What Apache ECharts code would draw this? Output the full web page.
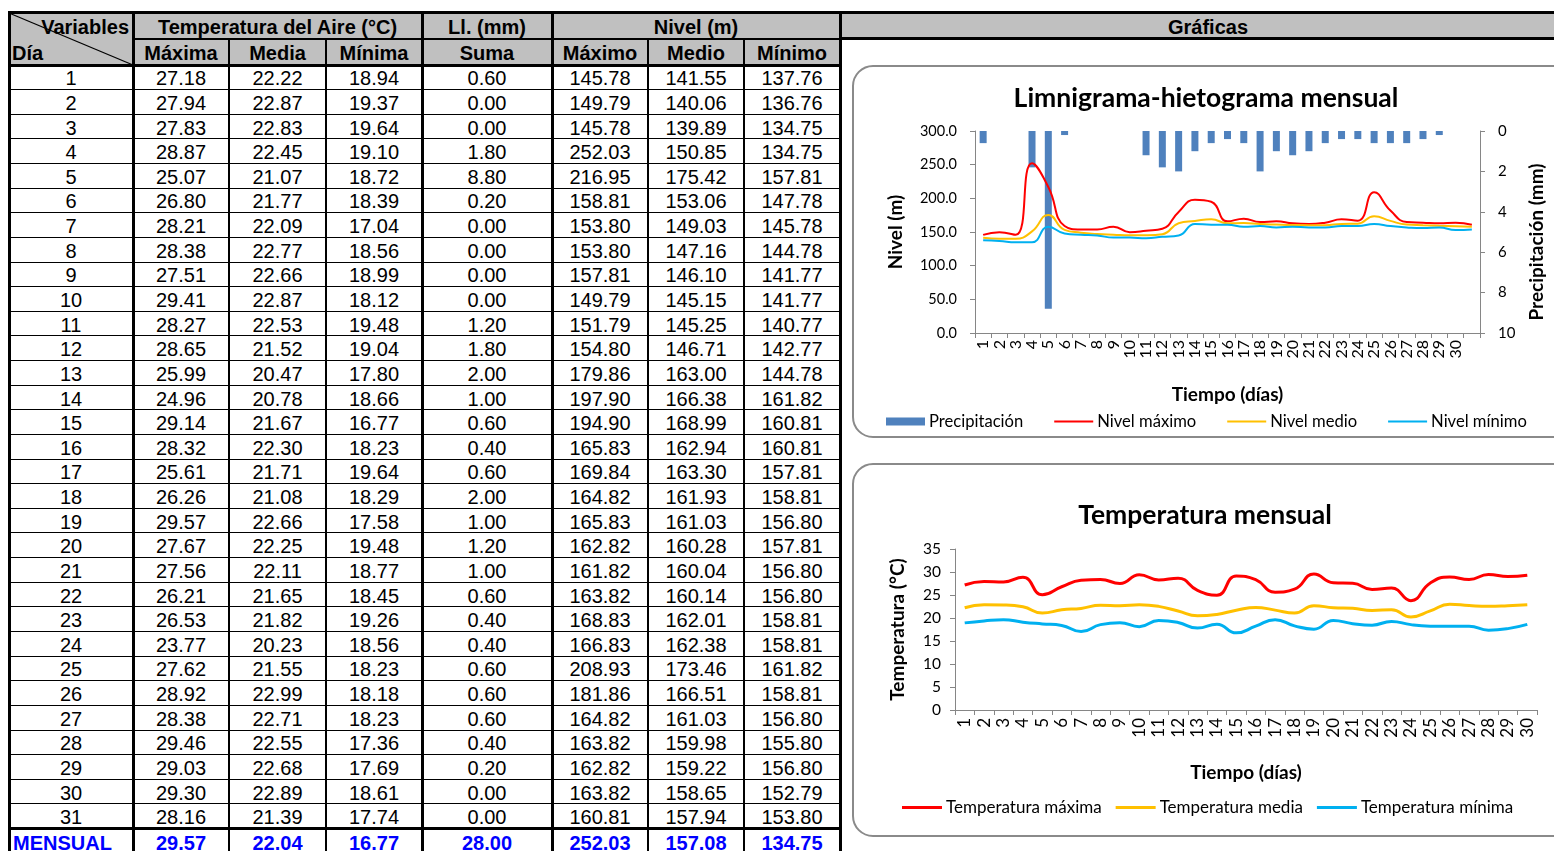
<!DOCTYPE html>
<html><head><meta charset="utf-8">
<script src="https://cdn.jsdelivr.net/npm/echarts@6/dist/echarts.min.js"></script>
<style>
html,body{margin:0;padding:0;background:#fff;overflow:hidden;width:1554px;height:851px;}
#tbl{position:absolute;left:0;top:0;width:1554px;height:851px;font-family:"Liberation Sans",Arial,sans-serif;}
.c{position:absolute;display:flex;align-items:center;justify-content:center;font-size:20px;color:#000;white-space:nowrap;line-height:1;}
.h{font-weight:bold;}
.ln{position:absolute;background:#000;}
.bg{position:absolute;background:#c0c0c0;}
#chart{position:absolute;left:842px;top:0;width:712px;height:851px;}
</style></head><body>
<div id="tbl"></div>
<div id="chart"></div>
<script>
// ---------------- data ----------------
const dias = ['1','2','3','4','5','6','7','8','9','10','11','12','13','14','15','16','17','18','19','20','21','22','23','24','25','26','27','28','29','30','31'];
const tMax = [27.18,27.94,27.83,28.87,25.07,26.80,28.21,28.38,27.51,29.41,28.27,28.65,25.99,24.96,29.14,28.32,25.61,26.26,29.57,27.67,27.56,26.21,26.53,23.77,27.62,28.92,28.38,29.46,29.03,29.30,28.16];
const tMed = [22.22,22.87,22.83,22.45,21.07,21.77,22.09,22.77,22.66,22.87,22.53,21.52,20.47,20.78,21.67,22.30,21.71,21.08,22.66,22.25,22.11,21.65,21.82,20.23,21.55,22.99,22.71,22.55,22.68,22.89,21.39];
const tMin = [18.94,19.37,19.64,19.10,18.72,18.39,17.04,18.56,18.99,18.12,19.48,19.04,17.80,18.66,16.77,18.23,19.64,18.29,17.58,19.48,18.77,18.45,19.26,18.56,18.23,18.18,18.23,17.36,17.69,18.61,17.74];
const llSuma = [0.60,0.00,0.00,1.80,8.80,0.20,0.00,0.00,0.00,0.00,1.20,1.80,2.00,1.00,0.60,0.40,0.60,2.00,1.00,1.20,1.00,0.60,0.40,0.40,0.60,0.60,0.60,0.40,0.20,0.00,0.00];
const nMax = [145.78,149.79,145.78,252.03,216.95,158.81,153.80,153.80,157.81,149.79,151.79,154.80,179.86,197.90,194.90,165.83,169.84,164.82,165.83,162.82,161.82,163.82,168.83,166.83,208.93,181.86,164.82,163.82,162.82,163.82,160.81];
const nMed = [141.55,140.06,139.89,150.85,175.42,153.06,149.03,147.16,146.10,145.15,145.25,146.71,163.00,166.38,168.99,162.94,163.30,161.93,161.03,160.28,160.04,160.14,162.01,162.38,173.46,166.51,161.03,159.98,159.22,158.65,157.94];
const nMin = [137.76,136.76,134.75,134.75,157.81,147.78,145.78,144.78,141.77,141.77,140.77,142.77,144.78,161.82,160.81,160.81,157.81,158.81,156.80,157.81,156.80,156.80,158.81,158.81,161.82,158.81,156.80,155.80,156.80,152.79,153.80];
const mensual = [29.57, 22.04, 16.77, 28.00, 252.03, 157.08, 134.75];
// chart category labels
const diasNivel = ['1','2','3','4','5','6','7','8','9','10','11','12','13','14','15','16','17','18','19','20','21','22','23','24','25','26','27','28','29','30',''];
const diasTemp = ['1','2','3','4','5','6','7','8','9','10','11','12','13','14','15','16','17','18','19','20','21','22','23','24','25','26','27','28','29','30'];
const headerGroups = ['Temperatura del Aire (°C)','Ll. (mm)','Nivel (m)','Gráficas'];
const headerSub = ['Máxima','Media','Mínima','Suma','Máximo','Medio','Mínimo'];

// ---------------- table ----------------
const T = document.getElementById('tbl');
function el(cls, l, t, w, h, txt, extra){
  const d = document.createElement('div'); d.className = cls;
  d.style.left = l+'px'; d.style.top = t+'px'; d.style.width = w+'px'; d.style.height = h+'px';
  if (txt !== undefined) d.textContent = txt;
  if (extra) Object.assign(d.style, extra);
  T.appendChild(d); return d;
}
const colX = [9,133,229,326,422,552,648,744,840];
const yTop = 12, yMid = 39, yHead = 65, rowH = 24.63;
// backgrounds
el('bg', 9, yTop, 831, yHead-yTop);
el('bg', 840, yTop, 720, yMid-yTop);
// header texts
el('c h', colX[1], yTop+1, colX[4]-colX[1], yMid-yTop, headerGroups[0]);
el('c h', colX[4], yTop+1, colX[5]-colX[4], yMid-yTop, headerGroups[1]);
el('c h', colX[5], yTop+1, colX[8]-colX[5], yMid-yTop, headerGroups[2]);
el('c h', 840, yTop+1, 736, yMid-yTop, headerGroups[3]);
for (let i=0;i<7;i++) el('c h', colX[i+1], yMid+1, colX[i+2]-colX[i+1], yHead-yMid, headerSub[i]);
el('c h', colX[0], yTop+1, colX[1]-colX[0]-4, yMid-yTop, 'Variables', {justifyContent:'flex-end'});
el('c h', colX[0]+3, yMid+1, 60, yHead-yMid, 'Día', {justifyContent:'flex-start'});
// diagonal
const svgNS='http://www.w3.org/2000/svg';
const sv = document.createElementNS(svgNS,'svg');
sv.setAttribute('width','140'); sv.setAttribute('height','70');
sv.style.position='absolute'; sv.style.left='0px'; sv.style.top='0px';
const dl = document.createElementNS(svgNS,'line');
dl.setAttribute('x1',colX[0]); dl.setAttribute('y1',yTop+1); dl.setAttribute('x2',colX[1]); dl.setAttribute('y2',yHead);
dl.setAttribute('stroke','#000'); dl.setAttribute('stroke-width','1.3');
sv.appendChild(dl); T.appendChild(sv);
// data rows
const cols = [dias, tMax, tMed, tMin, llSuma, nMax, nMed, nMin];
for (let r=0;r<dias.length;r++){
  const top = yHead + rowH*r;
  for (let c=0;c<8;c++){
    const v = c===0 ? cols[c][r] : cols[c][r].toFixed(2);
    el('c', colX[c], top+1, colX[c+1]-colX[c], rowH, v);
  }
}
// mensual row
{
  const top = yHead + rowH*dias.length;
  el('c h', colX[0]+4, top+2, colX[1]-colX[0], rowH, 'MENSUAL', {justifyContent:'flex-start', color:'#0000ff'});
  for (let c=0;c<7;c++) el('c h', colX[c+1], top+2, colX[c+2]-colX[c+1], rowH, mensual[c].toFixed(2), {color:'#0000ff'});
}
// lines
el('ln', 8, yTop-1, 1560, 3);
el('ln', colX[1], yMid-1, colX[8]-colX[1], 2);
el('ln', 840, yMid-2, 720, 3);
el('ln', 8, yHead-1.5, 834, 3);
for (let r=1;r<dias.length;r++) el('ln', 9, yHead+rowH*r-0.5, 831, 1);
el('ln', 8, yHead+rowH*dias.length-1.5, 834, 3);
[0,1,4,5,8].forEach(i=> el('ln', colX[i]-1.5, yTop-1, 3, 860));
[2,3,6,7].forEach(i=> el('ln', colX[i]-1, yMid, 2, 860));

// ---------------- charts ----------------
const chart = echarts.init(document.getElementById('chart'), null, {renderer:'canvas'});
const F = 'Lato';
const axisCol = '#868686';
const RED='#ff0000', YEL='#ffc000', BLU='#00b0f0', BAR='#4f81bd';
const ICON2 = 'path://M0,0H40V2H0Z', ICON3 = 'path://M0,0H40V3H0Z';
function lineS(name, data, color, w, xi, yi){
  return {name, type:'line', data, xAxisIndex:xi, yAxisIndex:yi, smooth:0.5, symbol:'none',
    lineStyle:{color, width:w}, itemStyle:{color}, z:3};
}
const option = {
  animation:false,
  backgroundColor:'transparent',
  graphic:[
    {type:'rect', shape:{x:11,y:66,width:740,height:371,r:20}, style:{fill:'#fff',stroke:'#8a8a8a',lineWidth:2}, z:-10},
    {type:'rect', shape:{x:11,y:464,width:740,height:372,r:20}, style:{fill:'#fff',stroke:'#8a8a8a',lineWidth:2}, z:-10}
  ],
  title:[
    {text:'Limnigrama-hietograma mensual', left:364, top:98, padding:0, textAlign:'center', textVerticalAlign:'middle',
      textStyle:{fontFamily:F, fontSize:26.5, fontWeight:'bold', color:'#000'}},
    {text:'Temperatura mensual', left:363, top:515, padding:0, textAlign:'center', textVerticalAlign:'middle',
      textStyle:{fontFamily:F, fontSize:26.5, fontWeight:'bold', color:'#000'}}
  ],
  legend:[
    {left:44, top:413, padding:0, itemWidth:39, itemHeight:8, itemGap:31, symbolKeepAspect:true,
      textStyle:{fontFamily:F, fontSize:16.6, color:'#000', padding:[0,0,0,-1]},
      data:[{name:'Precipitación', icon:'rect'},{name:'Nivel máximo', icon:ICON2},{name:'Nivel medio', icon:ICON2},{name:'Nivel mínimo', icon:ICON2}]},
    {left:60, top:799, padding:0, itemWidth:40, itemHeight:8, itemGap:14, symbolKeepAspect:true,
      textStyle:{fontFamily:F, fontSize:17, color:'#000', padding:[0,0,0,-1]},
      data:[{name:'Temperatura máxima', icon:ICON3},{name:'Temperatura media', icon:ICON3},{name:'Temperatura mínima', icon:ICON3}]}
  ],
  grid:[
    {left:133, top:131, width:509, height:202},
    {left:113, top:549, width:582, height:161}
  ],
  xAxis:[
    {type:'category', gridIndex:0, data:diasNivel, boundaryGap:true,
      axisLine:{lineStyle:{color:axisCol,width:1}}, axisTick:{show:true,length:5,lineStyle:{color:axisCol}},
      axisLabel:{interval:0, rotate:90, fontFamily:F, fontSize:16, color:'#000', margin:7},
      name:'Tiempo (días)', nameLocation:'middle', nameGap:52,
      nameTextStyle:{fontFamily:F, fontSize:19, fontWeight:'bold', color:'#000'}},
    {type:'category', gridIndex:1, data:diasTemp, boundaryGap:true,
      axisLine:{lineStyle:{color:axisCol,width:1}}, axisTick:{show:true,length:5,lineStyle:{color:axisCol}},
      axisLabel:{interval:0, rotate:90, fontFamily:F, fontSize:17, color:'#000', margin:8},
      name:'Tiempo (días)', nameLocation:'middle', nameGap:53,
      nameTextStyle:{fontFamily:F, fontSize:19, fontWeight:'bold', color:'#000'}}
  ],
  yAxis:[
    {type:'value', gridIndex:0, min:0, max:300, interval:50, splitLine:{show:false},
      axisLine:{show:true, lineStyle:{color:axisCol}}, axisTick:{show:true,length:5,lineStyle:{color:axisCol}},
      axisLabel:{formatter:v=>v.toFixed(1), fontFamily:F, fontSize:14.5, color:'#000', margin:18},
      name:'Nivel (m)', nameLocation:'middle', nameRotate:90, nameGap:70,
      nameTextStyle:{fontFamily:F, fontSize:19, fontWeight:'bold', color:'#000'}},
    {type:'value', gridIndex:0, position:'right', inverse:true, min:0, max:10, interval:2, splitLine:{show:false},
      axisLine:{show:true, lineStyle:{color:axisCol}}, axisTick:{show:true,length:5,lineStyle:{color:axisCol}},
      axisLabel:{fontFamily:F, fontSize:15, color:'#000', margin:18},
      name:'Precipitación (mm)', nameLocation:'middle', nameRotate:90, nameGap:47,
      nameTextStyle:{fontFamily:F, fontSize:19, fontWeight:'bold', color:'#000', padding:[0,20,0,0]}},
    {type:'value', gridIndex:1, min:0, max:35, interval:5, splitLine:{show:false},
      axisLine:{show:true, lineStyle:{color:axisCol}}, axisTick:{show:true,length:5,lineStyle:{color:axisCol}},
      axisLabel:{fontFamily:F, fontSize:15.5, color:'#000', margin:14},
      name:'Temperatura (°C)', nameLocation:'middle', nameRotate:90, nameGap:48,
      nameTextStyle:{fontFamily:F, fontSize:19, fontWeight:'bold', color:'#000'}}
  ],
  series:[
    {name:'Precipitación', type:'bar', data:llSuma, xAxisIndex:0, yAxisIndex:1, barWidth:7, itemStyle:{color:BAR}, z:2},
    lineS('Nivel máximo', nMax, RED, 2, 0, 0),
    lineS('Nivel medio', nMed, YEL, 2, 0, 0),
    lineS('Nivel mínimo', nMin, BLU, 2, 0, 0),
    lineS('Temperatura máxima', tMax.slice(0,30), RED, 3, 1, 2),
    lineS('Temperatura media', tMed.slice(0,30), YEL, 3, 1, 2),
    lineS('Temperatura mínima', tMin.slice(0,30), BLU, 3, 1, 2)
  ]
};
chart.setOption(option);
</script>
</body></html>
